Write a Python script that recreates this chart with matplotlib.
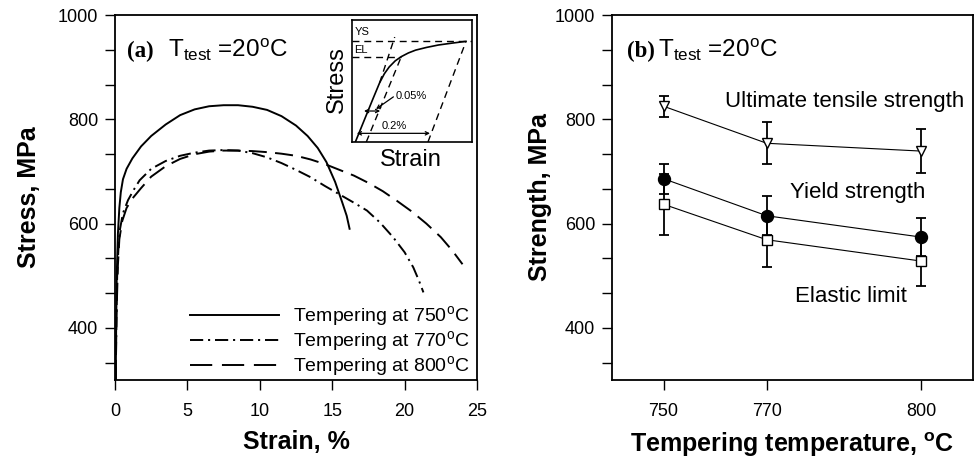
import matplotlib
matplotlib.use("Agg")
import matplotlib.pyplot as plt
from matplotlib.ticker import FixedLocator, NullFormatter
from matplotlib.lines import Line2D

plt.rcParams['font.family'] = ['Liberation Sans', 'DejaVu Sans']
plt.rcParams['mathtext.default'] = 'regular'
plt.rcParams['lines.scale_dashes'] = False

# ---------------- data: panel (a) stress-strain curves ----------------
strain_750 = [0.05, 0.08, 0.12, 0.2, 0.3, 0.4, 0.55, 0.8, 1.2, 1.8, 2.5, 3.5, 4.5, 5.5,
              6.5, 7.5, 8.5, 9.5, 10.5, 11.5, 12.5, 13.3, 14.0, 14.6, 15.2, 15.7, 16.0, 16.2]
stress_750 = [300, 400, 500, 580, 630, 660, 685, 705, 725, 748, 768, 790, 808, 819,
              825, 827, 827, 824, 818, 806, 788, 768, 745, 718, 680, 640, 615, 590]

strain_770 = [0.05, 0.1, 0.15, 0.25, 0.35, 0.55, 0.9, 1.3, 1.7, 2.5, 3.5, 4.5, 5.5, 6.5,
              7.5, 8.5, 9.5, 10.5, 11.5, 12.5, 13.5, 14.5, 15.5, 16.5, 17.4, 18.3, 19.2,
              20.0, 20.6, 21.0, 21.3]
stress_770 = [300, 420, 500, 560, 590, 620, 645, 665, 683, 705, 720, 730, 736, 740,
              741, 740, 735, 727, 716, 703, 689, 672, 656, 640, 625, 602, 574,
              545, 516, 490, 468]

strain_800 = [0.05, 0.1, 0.2, 0.3, 0.5, 0.8, 1.2, 1.8, 2.5, 3.5, 4.5, 5.5, 6.5, 7.5,
              8.5, 9.5, 10.5, 11.5, 12.5, 13.5, 14.5, 15.5, 16.5, 17.5, 18.5, 19.5,
              20.5, 21.5, 22.5, 23.3, 24.0]
stress_800 = [300, 420, 520, 570, 605, 630, 648, 668, 690, 710, 724, 733, 738, 740,
              740, 739, 737, 734, 730, 723, 714, 703, 692, 678, 662, 643,
              623, 600, 574, 548, 522]

legend_labels = ['Tempering at 750$^{o}$C', 'Tempering at 770$^{o}$C', 'Tempering at 800$^{o}$C']

# ---------------- data: panel (b) strengths ----------------
temps = [750, 770, 800]
uts = [825, 754, 739]
uts_err = [20, 40, 42]
ys = [686, 615, 574]
ys_err = [29, 37, 37]
el = [637, 569, 528]
el_err = [58, 52, 48]

y_major = [400, 600, 800, 1000]
y_minor = [333.3, 466.7, 533.3, 666.7, 733.3, 866.7, 933.3]
x_ticks_a = [0, 5, 10, 15, 20, 25]

# inset schematic (normalised units)
ins_curve_x = [0.028, 0.1, 0.175, 0.23, 0.27, 0.31, 0.36, 0.411, 0.47, 0.53, 0.62, 0.72, 0.83, 0.95]
ins_curve_y = [0.0, 0.174, 0.355, 0.485, 0.56, 0.615, 0.665, 0.70, 0.73, 0.753, 0.775, 0.795, 0.81, 0.825]

W, H = 977, 459
fig = plt.figure(figsize=(W / 100, H / 100), dpi=100)

def px_rect(x0, y0, x1, y1):
    return [x0 / W, 1 - y1 / H, (x1 - x0) / W, (y1 - y0) / H]

axA = fig.add_axes(px_rect(115, 15, 477, 380))
axB = fig.add_axes(px_rect(612, 15, 973, 380))

TICKFS = 13
for ax in (axA, axB):
    for s in ax.spines.values():
        s.set_linewidth(1.3)
    ax.set_ylim(300, 1000)
    ax.yaxis.set_major_locator(FixedLocator(y_major))
    ax.yaxis.set_minor_locator(FixedLocator(y_minor))
    ax.yaxis.set_minor_formatter(NullFormatter())
    ax.tick_params(which='both', direction='out', length=7.2, width=1.0,
                   labelsize=TICKFS, top=False, right=False, pad=5)
    ax.tick_params(axis='x', pad=9)

# ---------------- panel (a) ----------------
lw = 1.4
axA.plot(strain_750, stress_750, color='black', lw=lw, linestyle='-')
axA.plot(strain_770, stress_770, color='black', lw=lw, linestyle=(0, (9.5, 3.5, 1.5, 3.5)))
axA.plot(strain_800, stress_800, color='black', lw=lw, linestyle=(0, (13, 6)))
axA.set_xlim(0, 25)
axA.set_xticks(x_ticks_a)
axA.set_xlabel('Strain, %', fontsize=18, fontweight='bold')
axA.set_ylabel('Stress, MPa', fontsize=18, fontweight='bold')
axA.xaxis.set_label_coords(0.5, -0.137)
axA.yaxis.set_label_coords(-0.205, 0.5)

handles = [Line2D([], [], color='black', lw=lw, linestyle='-'),
           Line2D([], [], color='black', lw=lw, linestyle=(0, (9.5, 3.5, 1.5, 3.5))),
           Line2D([], [], color='black', lw=lw, linestyle=(0, (16, 7)))]
axA.legend(handles, legend_labels, loc='lower right', bbox_to_anchor=(1.0, -0.017),
           frameon=False, fontsize=14, handlelength=4.6, handletextpad=0.7,
           labelspacing=0.05, borderaxespad=0.2, borderpad=0.2)

axA.text(0.032, 0.885, '(a)', transform=axA.transAxes, fontsize=16.5,
         family='Liberation Serif', fontweight='bold', va='baseline')
axA.text(0.146, 0.885, r'T$_{test}$ =20$^{o}$C', transform=axA.transAxes,
         fontsize=17.5, va='baseline')

# inset schematic
ins = fig.add_axes(px_rect(352, 20, 472, 142))
ins.set_xlim(0, 1)
ins.set_ylim(0, 1)
ins.set_xticks([])
ins.set_yticks([])
for s in ins.spines.values():
    s.set_linewidth(1.2)
ins.plot(ins_curve_x, ins_curve_y, color='black', lw=1.2)
dash = (0, (5, 3.5))
ins.plot([0, 1], [0.825, 0.825], color='black', lw=1.0, linestyle=dash)
ins.plot([0, 0.411], [0.70, 0.70], color='black', lw=1.0, linestyle=dash)
ins.plot([0.23, 0.356], [0.485, 0.86], color='black', lw=1.0, linestyle=dash)
ins.plot([0.119, 0.411], [0.0, 0.70], color='black', lw=1.0, linestyle=dash)
ins.plot([0.633, 0.95], [0.0, 0.825], color='black', lw=1.0, linestyle=dash)
ins.text(0.02, 0.9, 'YS', fontsize=8, va='center', ha='left')
ins.text(0.02, 0.755, 'EL', fontsize=8, va='center', ha='left')
ins.text(0.36, 0.38, '0.05%', fontsize=8, va='center', ha='left')
ins.text(0.25, 0.135, '0.2%', fontsize=8, va='center', ha='left')
ins.annotate('', xy=(0.10, 0.254), xytext=(0.235, 0.254),
             arrowprops=dict(arrowstyle='<->', lw=0.9, mutation_scale=6, shrinkA=0, shrinkB=0))
ins.annotate('', xy=(0.20, 0.27), xytext=(0.345, 0.37),
             arrowprops=dict(arrowstyle='->', lw=0.9, mutation_scale=6, shrinkA=0, shrinkB=0))
ins.annotate('', xy=(0.04, 0.071), xytext=(0.65, 0.071),
             arrowprops=dict(arrowstyle='<->', lw=0.9, mutation_scale=6, shrinkA=0, shrinkB=0))
fig.text(337 / W, 1 - 80 / H, 'Stress', rotation=90, fontsize=17, ha='center', va='center')
fig.text(411 / W, 1 - 160 / H, 'Strain', fontsize=17, ha='center', va='center')

# ---------------- panel (b) ----------------
axB.set_xlim(740, 810)
axB.set_xticks(temps)
for vals, errs in ((uts, uts_err), (ys, ys_err), (el, el_err)):
    axB.errorbar(temps, vals, yerr=errs, fmt='none', ecolor='black', elinewidth=1.3,
                 capsize=3.8, capthick=1.3, zorder=2)
axB.plot(temps, uts, color='black', lw=0.8, marker='v', markersize=7.2,
         markerfacecolor='white', markeredgecolor='black', markeredgewidth=1.0, zorder=3)
axB.plot(temps, ys, color='black', lw=0.8, marker='o', markersize=8.6,
         markerfacecolor='black', markeredgecolor='black', zorder=3)
axB.plot(temps, el, color='black', lw=0.8, marker='s', markersize=6.7,
         markerfacecolor='white', markeredgecolor='black', markeredgewidth=1.0, zorder=3)
axB.text(762.0, 823.6, 'Ultimate tensile strength', fontsize=16, va='baseline', ha='left')
axB.text(774.6, 649, 'Yield strength', fontsize=16, va='baseline', ha='left')
axB.text(775.5, 450, 'Elastic limit', fontsize=16, va='baseline', ha='left')
axB.set_xlabel('Tempering temperature, $^{o}$C', fontsize=18, fontweight='bold')
axB.set_ylabel('Strength, MPa', fontsize=18, fontweight='bold')
axB.xaxis.set_label_coords(0.5, -0.137)
axB.yaxis.set_label_coords(-0.165, 0.5)
axB.text(0.042, 0.885, '(b)', transform=axB.transAxes, fontsize=16.5,
         family='Liberation Serif', fontweight='bold', va='baseline')
axB.text(0.127, 0.885, r'T$_{test}$ =20$^{o}$C', transform=axB.transAxes,
         fontsize=17.5, va='baseline')

fig.savefig('out.png', dpi=100)
